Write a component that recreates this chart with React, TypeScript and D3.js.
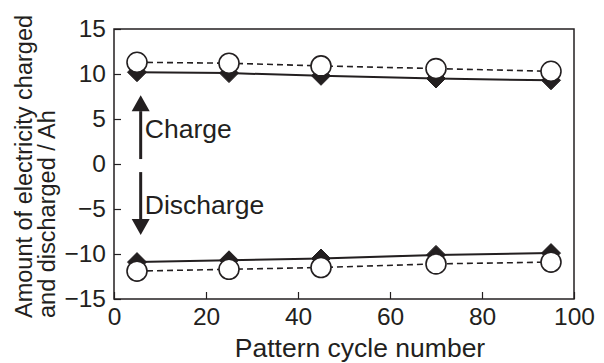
import { useEffect, useRef } from 'react';
import * as d3 from 'd3';

const cycles = [5, 25, 45, 70, 95];
const chargeDiamond = [10.2, 10.1, 9.8, 9.5, 9.3];
const chargeCircle = [11.3, 11.2, 10.9, 10.6, 10.3];
const dischargeDiamond = [-10.9, -10.7, -10.5, -10.1, -9.9];
const dischargeCircle = [-11.9, -11.7, -11.5, -11.1, -10.9];
const xTicks = [0, 20, 40, 60, 80, 100];
const yTicks = [-15, -10, -5, 0, 5, 10, 15];

const INK = '#231f20';
const FONT = '"Liberation Sans", Arial, sans-serif';

export default function App() {
  const svgRef = useRef<SVGSVGElement>(null);

  useEffect(() => {
    if (!svgRef.current) return;
    const svg = d3.select(svgRef.current);
    svg.selectAll('*').remove();

    const W = 604, H = 363;
    const margin = { top: 29, right: 30, bottom: 64, left: 114 };
    const width = W - margin.left - margin.right;
    const height = H - margin.top - margin.bottom;

    const g = svg.append('g').attr('transform', `translate(${margin.left},${margin.top})`);

    const x = d3.scaleLinear().domain([0, 100]).range([0, width]);
    const y = d3.scaleLinear().domain([-15, 15]).range([height, 0]);

    // ── Axes (inward ticks) ─────────────────────────────────
    g.append('g')
      .attr('transform', `translate(0,${height})`)
      .call(d3.axisBottom(x).tickValues(xTicks).tickSize(-7).tickFormat(d3.format('d')))
      .call(a => a.select('.domain').remove())
      .call(a => a.selectAll('line').attr('stroke', INK).attr('stroke-width', 1.2))
      .call(a => a.selectAll('text').attr('fill', INK).attr('font-size', '24.5px').attr('font-family', FONT)
        .attr('dy', '0.71em').attr('y', 9));

    g.append('g')
      .call(d3.axisLeft(y).tickValues(yTicks).tickSize(-7).tickPadding(8)
        .tickFormat(d => String(d).replace('-', '\u2212')))
      .call(a => a.select('.domain').remove())
      .call(a => a.selectAll('line').attr('stroke', INK).attr('stroke-width', 1.2))
      .call(a => a.selectAll('text').attr('fill', INK).attr('font-size', '24.5px').attr('font-family', FONT));

    // frame
    g.append('rect').attr('width', width).attr('height', height)
      .attr('fill', 'none').attr('stroke', INK).attr('stroke-width', 1.5);

    // ── Lines ───────────────────────────────────────────────
    const line = d3.line<number>().x((_, i) => x(cycles[i])).y(d => y(d));

    const drawSeries = (vals: number[], dashed: boolean) => {
      g.append('path').datum(vals)
        .attr('fill', 'none').attr('stroke', INK)
        .attr('stroke-width', dashed ? 1.6 : 2)
        .attr('stroke-dasharray', dashed ? '6,4' : null)
        .attr('d', line);
    };
    drawSeries(chargeDiamond, false);
    drawSeries(dischargeDiamond, false);
    drawSeries(chargeCircle, true);
    drawSeries(dischargeCircle, true);

    const diamond = d3.symbol().type(d3.symbolDiamond2).size(230);
    const drawDiamonds = (vals: number[]) => {
      g.append('g').selectAll('path').data(vals).join('path')
        .attr('transform', (d, i) => `translate(${x(cycles[i])},${y(d)})`)
        .attr('d', diamond).attr('fill', INK).attr('stroke', INK).attr('stroke-width', 1);
    };
    const drawCircles = (vals: number[]) => {
      g.append('g').selectAll('circle').data(vals).join('circle')
        .attr('cx', (_, i) => x(cycles[i])).attr('cy', d => y(d)).attr('r', 10)
        .attr('fill', '#fff').attr('stroke', INK).attr('stroke-width', 1.6);
    };
    drawDiamonds(chargeDiamond);
    drawDiamonds(dischargeDiamond);
    drawCircles(chargeCircle);
    drawCircles(dischargeCircle);

    // ── Charge / Discharge arrows ───────────────────────────
    const ax = x(5.8);
    const arrow = (from: number, to: number) => {
      const dir = Math.sign(y(to) - y(from));
      const tip = y(to), base = tip - dir * 16;
      g.append('line').attr('x1', ax).attr('x2', ax).attr('y1', y(from)).attr('y2', base)
        .attr('stroke', INK).attr('stroke-width', 3);
      g.append('path')
        .attr('d', `M${ax},${tip}L${ax - 9},${base}L${ax + 9},${base}Z`)
        .attr('fill', INK);
    };
    arrow(0.55, 7.65);
    arrow(-0.9, -7.9);

    g.append('text').attr('x', x(6.7)).attr('y', y(2.85))
      .attr('fill', INK).attr('font-size', '26.5px').attr('font-family', FONT).text('Charge');
    g.append('text').attr('x', x(6.7)).attr('y', y(-5.5))
      .attr('fill', INK).attr('font-size', '26.5px').attr('font-family', FONT).text('Discharge');

    // ── Axis titles ─────────────────────────────────────────
    svg.append('text').attr('x', 360).attr('y', 357)
      .attr('text-anchor', 'middle').attr('fill', INK)
      .attr('font-size', '26.5px').attr('font-family', FONT).text('Pattern cycle number');

    const yt = svg.append('text').attr('transform', 'translate(0,318) rotate(-90)')
      .attr('fill', INK).attr('font-size', '23.5px').attr('font-family', FONT);
    yt.append('tspan').attr('x', 0).attr('y', 32).text('Amount of electricity charged');
    yt.append('tspan').attr('x', 0).attr('y', 55).text('and discharged / Ah');
  }, []);

  return (
    <svg ref={svgRef} width={604} height={363}
      style={{ position: 'absolute', left: 0, top: 0, background: '#fff' }} />
  );
}
